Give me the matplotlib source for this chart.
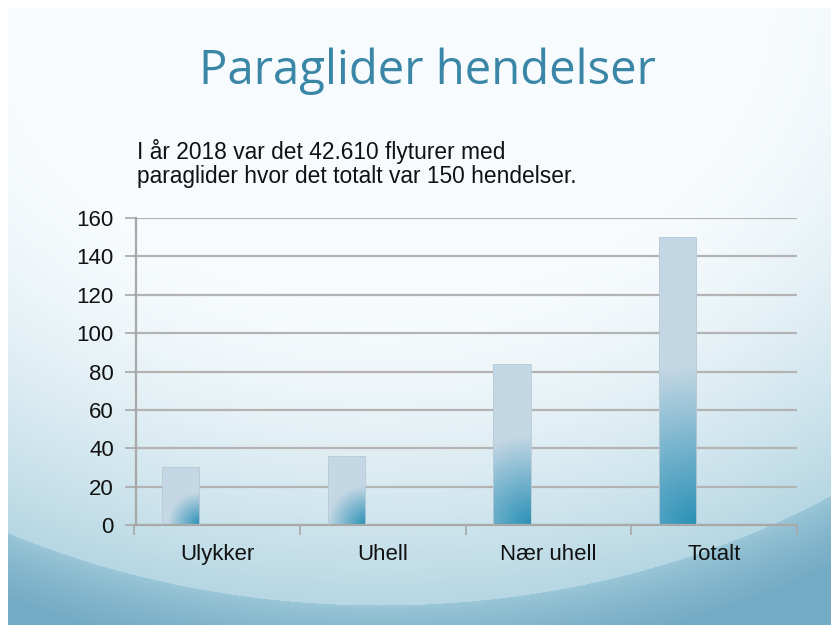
import matplotlib
matplotlib.use("Agg")
import matplotlib.pyplot as plt
import numpy as np
from matplotlib.colors import to_rgb

# chart data
categories = ["Ulykker", "Uhell", "Nær uhell", "Totalt"]
values = [30, 36, 84, 150]
yticks = [0, 20, 40, 60, 80, 100, 120, 140, 160]

title = "Paraglider hendelser"
subtitle = "I år 2018 var det 42.610 flyturer med\nparaglider hvor det totalt var 150 hendelser."

plt.rcParams["font.family"] = ["Liberation Sans", "DejaVu Sans"]

W, H = 831, 625
light = np.array(to_rgb("#c4d7e4"))
dark = np.array(to_rgb("#2990b6"))


def slide_background(w, h):
    """Whitish slide with the teal arc at the bottom."""
    yy, xx = np.mgrid[0:h, 0:w].astype(float)
    xx += 8
    yy += 8
    d = np.sqrt(((xx - 380) / 785.0) ** 2 + (yy / 605.0) ** 2)
    top = np.array(to_rgb("#f7fbfd"))
    edge = np.array(to_rgb("#b6d7e3"))
    band = np.array(to_rgb("#9cc8d8"))
    deep = np.array(to_rgb("#74abc4"))
    s = np.clip((d - 0.5) / 0.5, 0, 1) ** 1.5
    img = top + (edge - top) * s[..., None]
    out = d > 1.0
    t = np.clip((d - 1.0) / 0.1, 0, 1) ** 0.7
    outer = band + (deep - band) * t[..., None]
    img[out] = outer[out]
    return img


fig = plt.figure(figsize=(W / 100, H / 100), dpi=100)
fig.patch.set_facecolor("white")

# background of the slide
bg = fig.add_axes([8 / W, 0, (W - 8) / W, (H - 8) / H], zorder=0)
bg.imshow(slide_background(W - 8, H - 8), aspect="auto", interpolation="bilinear")
bg.axis("off")

fig.text(427 / W, 1 - 84 / H, title, color="#3a86a7", fontsize=34,
         family="Open Sans", ha="center", va="baseline")
fig.text(137 / W, 1 - 139 / H, subtitle, color="#111111", fontsize=16.4,
         ha="left", va="top", linespacing=1.08)

ax = fig.add_axes([134 / W, 1 - 525 / H, (797 - 134) / W, (525 - 218) / H], zorder=1)
ax.patch.set_alpha(0)
x = np.arange(len(categories))
ax.set_xlim(-0.5, len(categories) - 0.5)
ax.set_ylim(0, 160)

bars = ax.bar(x - 0.22, values, width=0.225, color="none",
              edgecolor="#b9cad6", linewidth=0.6, zorder=3)

# px per data unit, to shape the gradient
px_x = (797 - 134) / (ax.get_xlim()[1] - ax.get_xlim()[0])
px_y = (525 - 218) / (ax.get_ylim()[1] - ax.get_ylim()[0])

for bar in bars:
    bw = bar.get_width() * px_x
    bh = bar.get_height() * px_y
    ny, nx = max(int(bh), 2), max(int(bw), 2)
    gy, gx = np.mgrid[0:ny, 0:nx].astype(float)
    # distance from bottom-right corner
    dist = np.sqrt((gx - nx) ** 2 + gy ** 2)
    rad = 0.55 * bh
    t = np.clip(1 - dist / rad, 0, 1)
    grad = light + (dark - light) * t[..., None]
    im = ax.imshow(grad, origin="lower", aspect="auto", interpolation="bilinear",
                   extent=(bar.get_x(), bar.get_x() + bar.get_width(), 0, bar.get_height()),
                   zorder=2)
    im.set_clip_path(bar)

ax.set_xlim(-0.5, len(categories) - 0.5)
ax.set_ylim(0, 160)

ax.set_yticks(yticks)
ax.yaxis.grid(True, color="#b3b3b3", linewidth=1.6)
ax.set_axisbelow(True)
ax.tick_params(axis="y", length=8, width=1.2, color="#a8a8a8", labelsize=16, pad=8,
               labelcolor="#111111")
ax.set_xticks(x)
ax.set_xticklabels(categories)
ax.set_xticks(np.arange(-0.5, len(categories)), minor=True)
ax.tick_params(axis="x", which="major", length=0, labelsize=16, pad=14, labelcolor="#111111")
ax.tick_params(axis="x", which="minor", length=7, width=1.2, color="#a8a8a8", direction="out")

for side in ["top", "right"]:
    ax.spines[side].set_visible(False)
ax.spines["left"].set_color("#a8a8a8")
ax.spines["left"].set_linewidth(1.6)
ax.spines["left"].set_position(("data", -0.5 + 2 / px_x))
ax.spines["bottom"].set_color("#a8a8a8")
ax.spines["bottom"].set_linewidth(1.6)

fig.savefig("out.png", dpi=100)
